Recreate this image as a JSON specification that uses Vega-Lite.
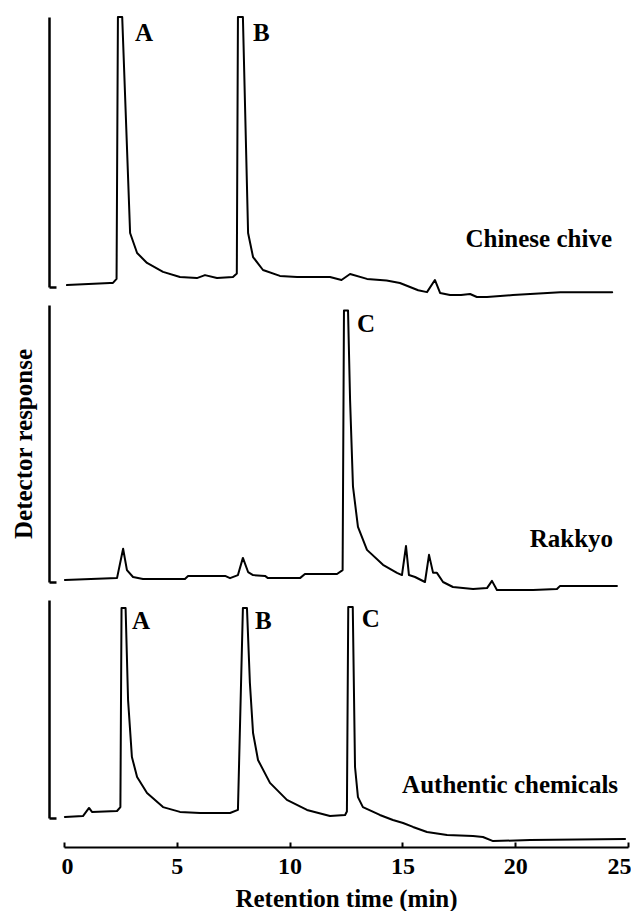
{
  "$schema": "https://vega.github.io/schema/vega-lite/v6.json",
  "autosize": {"type": "pad"},
  "padding": {"left": 11, "top": 16, "right": 0, "bottom": 0},
  "bounds": "flush",
  "spacing": 18,
  "config": {
    "view": {"stroke": null},
    "font": "Times New Roman, Liberation Serif, DejaVu Serif, serif",
    "text": {"font": "Times New Roman, Liberation Serif, DejaVu Serif, serif"},
    "axis": {
      "labelFont": "Times New Roman, Liberation Serif, DejaVu Serif, serif",
      "titleFont": "Times New Roman, Liberation Serif, DejaVu Serif, serif",
      "domainColor": "black",
      "tickColor": "black",
      "labelColor": "black",
      "titleColor": "black",
      "grid": false
    }
  },
  "datasets": {
    "traces": [
      {"sample": "Chinese chive", "time": 0.13, "response": 0.7},
      {"sample": "Chinese chive", "time": 2.04, "response": 1.5},
      {"sample": "Chinese chive", "time": 2.17, "response": 1.5},
      {"sample": "Chinese chive", "time": 2.33, "response": 3.0},
      {"sample": "Chinese chive", "time": 2.39, "response": 100},
      {"sample": "Chinese chive", "time": 2.58, "response": 100},
      {"sample": "Chinese chive", "time": 2.93, "response": 20.0},
      {"sample": "Chinese chive", "time": 3.24, "response": 12.6},
      {"sample": "Chinese chive", "time": 3.68, "response": 8.9},
      {"sample": "Chinese chive", "time": 4.39, "response": 5.6},
      {"sample": "Chinese chive", "time": 5.14, "response": 3.7},
      {"sample": "Chinese chive", "time": 5.89, "response": 3.3},
      {"sample": "Chinese chive", "time": 6.25, "response": 4.4},
      {"sample": "Chinese chive", "time": 6.78, "response": 3.3},
      {"sample": "Chinese chive", "time": 7.49, "response": 3.7},
      {"sample": "Chinese chive", "time": 7.66, "response": 5.0},
      {"sample": "Chinese chive", "time": 7.71, "response": 100},
      {"sample": "Chinese chive", "time": 7.93, "response": 100},
      {"sample": "Chinese chive", "time": 8.16, "response": 20.0},
      {"sample": "Chinese chive", "time": 8.38, "response": 11.1},
      {"sample": "Chinese chive", "time": 8.82, "response": 6.3},
      {"sample": "Chinese chive", "time": 9.57, "response": 4.1},
      {"sample": "Chinese chive", "time": 10.33, "response": 3.7},
      {"sample": "Chinese chive", "time": 11.79, "response": 3.7},
      {"sample": "Chinese chive", "time": 12.3, "response": 2.6},
      {"sample": "Chinese chive", "time": 12.68, "response": 4.8},
      {"sample": "Chinese chive", "time": 13.43, "response": 3.0},
      {"sample": "Chinese chive", "time": 14.3, "response": 2.4},
      {"sample": "Chinese chive", "time": 14.89, "response": 1.5},
      {"sample": "Chinese chive", "time": 15.7, "response": -1.2},
      {"sample": "Chinese chive", "time": 16.09, "response": -1.9},
      {"sample": "Chinese chive", "time": 16.44, "response": 2.6},
      {"sample": "Chinese chive", "time": 16.67, "response": -2.2},
      {"sample": "Chinese chive", "time": 17.11, "response": -3.0},
      {"sample": "Chinese chive", "time": 17.6, "response": -3.0},
      {"sample": "Chinese chive", "time": 18.0, "response": -2.6},
      {"sample": "Chinese chive", "time": 18.3, "response": -3.7},
      {"sample": "Chinese chive", "time": 18.75, "response": -3.7},
      {"sample": "Chinese chive", "time": 19.9, "response": -3.0},
      {"sample": "Chinese chive", "time": 22.0, "response": -1.9},
      {"sample": "Chinese chive", "time": 24.3, "response": -1.9},

      {"sample": "Rakkyo", "time": 0.04, "response": 0.7},
      {"sample": "Rakkyo", "time": 2.35, "response": 1.4},
      {"sample": "Rakkyo", "time": 2.62, "response": 12.0},
      {"sample": "Rakkyo", "time": 2.79, "response": 4.3},
      {"sample": "Rakkyo", "time": 3.06, "response": 1.8},
      {"sample": "Rakkyo", "time": 3.5, "response": 1.1},
      {"sample": "Rakkyo", "time": 5.36, "response": 1.1},
      {"sample": "Rakkyo", "time": 5.5, "response": 2.2},
      {"sample": "Rakkyo", "time": 7.14, "response": 2.2},
      {"sample": "Rakkyo", "time": 7.36, "response": 1.4},
      {"sample": "Rakkyo", "time": 7.71, "response": 2.5},
      {"sample": "Rakkyo", "time": 7.93, "response": 8.7},
      {"sample": "Rakkyo", "time": 8.16, "response": 3.6},
      {"sample": "Rakkyo", "time": 8.38, "response": 2.5},
      {"sample": "Rakkyo", "time": 8.91, "response": 2.2},
      {"sample": "Rakkyo", "time": 9.04, "response": 1.4},
      {"sample": "Rakkyo", "time": 10.46, "response": 1.4},
      {"sample": "Rakkyo", "time": 10.68, "response": 2.9},
      {"sample": "Rakkyo", "time": 12.1, "response": 2.9},
      {"sample": "Rakkyo", "time": 12.35, "response": 4.3},
      {"sample": "Rakkyo", "time": 12.41, "response": 98.0},
      {"sample": "Rakkyo", "time": 12.59, "response": 98.0},
      {"sample": "Rakkyo", "time": 12.68, "response": 65.9},
      {"sample": "Rakkyo", "time": 12.81, "response": 34.4},
      {"sample": "Rakkyo", "time": 13.03, "response": 19.9},
      {"sample": "Rakkyo", "time": 13.43, "response": 11.6},
      {"sample": "Rakkyo", "time": 14.14, "response": 6.2},
      {"sample": "Rakkyo", "time": 14.76, "response": 3.3},
      {"sample": "Rakkyo", "time": 14.98, "response": 2.5},
      {"sample": "Rakkyo", "time": 15.16, "response": 13.0},
      {"sample": "Rakkyo", "time": 15.29, "response": 2.5},
      {"sample": "Rakkyo", "time": 15.56, "response": 1.8},
      {"sample": "Rakkyo", "time": 16.0, "response": 0.0},
      {"sample": "Rakkyo", "time": 16.18, "response": 9.8},
      {"sample": "Rakkyo", "time": 16.36, "response": 3.3},
      {"sample": "Rakkyo", "time": 16.53, "response": 3.3},
      {"sample": "Rakkyo", "time": 16.8, "response": 0.0},
      {"sample": "Rakkyo", "time": 17.24, "response": -1.8},
      {"sample": "Rakkyo", "time": 18.13, "response": -2.5},
      {"sample": "Rakkyo", "time": 18.75, "response": -2.2},
      {"sample": "Rakkyo", "time": 18.97, "response": 0.4},
      {"sample": "Rakkyo", "time": 19.19, "response": -2.9},
      {"sample": "Rakkyo", "time": 20.79, "response": -2.9},
      {"sample": "Rakkyo", "time": 21.85, "response": -2.5},
      {"sample": "Rakkyo", "time": 21.99, "response": -1.4},
      {"sample": "Rakkyo", "time": 24.51, "response": -1.4},

      {"sample": "Authentic chemicals", "time": 0.04, "response": 0.5},
      {"sample": "Authentic chemicals", "time": 0.84, "response": 0.9},
      {"sample": "Authentic chemicals", "time": 1.11, "response": 4.6},
      {"sample": "Authentic chemicals", "time": 1.24, "response": 2.8},
      {"sample": "Authentic chemicals", "time": 2.35, "response": 3.2},
      {"sample": "Authentic chemicals", "time": 2.5, "response": 5.0},
      {"sample": "Authentic chemicals", "time": 2.55, "response": 96.3},
      {"sample": "Authentic chemicals", "time": 2.73, "response": 96.3},
      {"sample": "Authentic chemicals", "time": 2.84, "response": 54.1},
      {"sample": "Authentic chemicals", "time": 3.01, "response": 28.0},
      {"sample": "Authentic chemicals", "time": 3.24, "response": 18.8},
      {"sample": "Authentic chemicals", "time": 3.68, "response": 11.5},
      {"sample": "Authentic chemicals", "time": 4.39, "response": 5.0},
      {"sample": "Authentic chemicals", "time": 5.14, "response": 2.8},
      {"sample": "Authentic chemicals", "time": 6.03, "response": 2.3},
      {"sample": "Authentic chemicals", "time": 7.36, "response": 2.3},
      {"sample": "Authentic chemicals", "time": 7.71, "response": 3.7},
      {"sample": "Authentic chemicals", "time": 7.93, "response": 96.3},
      {"sample": "Authentic chemicals", "time": 8.11, "response": 96.3},
      {"sample": "Authentic chemicals", "time": 8.24, "response": 61.9},
      {"sample": "Authentic chemicals", "time": 8.38, "response": 39.0},
      {"sample": "Authentic chemicals", "time": 8.6, "response": 26.6},
      {"sample": "Authentic chemicals", "time": 9.13, "response": 16.1},
      {"sample": "Authentic chemicals", "time": 9.88, "response": 8.3},
      {"sample": "Authentic chemicals", "time": 10.77, "response": 3.7},
      {"sample": "Authentic chemicals", "time": 11.79, "response": 0.9},
      {"sample": "Authentic chemicals", "time": 12.46, "response": 1.4},
      {"sample": "Authentic chemicals", "time": 12.54, "response": 3.0},
      {"sample": "Authentic chemicals", "time": 12.6, "response": 96.8},
      {"sample": "Authentic chemicals", "time": 12.8, "response": 96.8},
      {"sample": "Authentic chemicals", "time": 12.9, "response": 23.4},
      {"sample": "Authentic chemicals", "time": 13.03, "response": 9.6},
      {"sample": "Authentic chemicals", "time": 13.25, "response": 5.0},
      {"sample": "Authentic chemicals", "time": 14.0, "response": 1.4},
      {"sample": "Authentic chemicals", "time": 14.58, "response": -0.9},
      {"sample": "Authentic chemicals", "time": 15.03, "response": -2.3},
      {"sample": "Authentic chemicals", "time": 15.47, "response": -4.1},
      {"sample": "Authentic chemicals", "time": 16.09, "response": -6.4},
      {"sample": "Authentic chemicals", "time": 16.98, "response": -7.8},
      {"sample": "Authentic chemicals", "time": 18.13, "response": -8.3},
      {"sample": "Authentic chemicals", "time": 18.57, "response": -8.7},
      {"sample": "Authentic chemicals", "time": 19.02, "response": -10.6},
      {"sample": "Authentic chemicals", "time": 20.66, "response": -10.1},
      {"sample": "Authentic chemicals", "time": 24.87, "response": -9.6}
    ],
    "labels": [
      {"sample": "Chinese chive", "kind": "peak", "label": "A", "time": 3.15, "response": 91.0},
      {"sample": "Chinese chive", "kind": "peak", "label": "B", "time": 8.38, "response": 91.0},
      {"sample": "Chinese chive", "kind": "name", "label": "Chinese chive", "time": 24.29, "response": 14.8},
      {"sample": "Rakkyo", "kind": "peak", "label": "C", "time": 12.99, "response": 90.3},
      {"sample": "Rakkyo", "kind": "name", "label": "Rakkyo", "time": 24.34, "response": 12.6},
      {"sample": "Authentic chemicals", "kind": "peak", "label": "A", "time": 3.01, "response": 86.7},
      {"sample": "Authentic chemicals", "kind": "peak", "label": "B", "time": 8.47, "response": 86.7},
      {"sample": "Authentic chemicals", "kind": "peak", "label": "C", "time": 13.2, "response": 87.6},
      {"sample": "Authentic chemicals", "kind": "name", "label": "Authentic chemicals", "time": 24.56, "response": 11.5}
    ]
  },
  "vconcat": [
    {
      "width": 564,
      "height": 270,
      "encoding": {
        "x": {"field": "time", "type": "quantitative", "scale": {"domain": [0, 25], "nice": false, "zero": false}, "axis": null},
        "y": {"field": "response", "type": "quantitative", "scale": {"domain": [0, 100], "nice": false, "zero": false},
              "axis": {"title": null, "labels": false, "values": [0], "tickSize": -7, "tickWidth": 2.5, "domainWidth": 2.5, "offset": 15}}
      },
      "layer": [
        {"data": {"name": "traces"}, "transform": [{"filter": "datum.sample === 'Chinese chive'"}],
         "mark": {"type": "line", "color": "black", "strokeWidth": 2, "strokeJoin": "round", "strokeCap": "round"}},
        {"data": {"name": "labels"}, "transform": [{"filter": "datum.sample === 'Chinese chive' && datum.kind === 'peak'"}],
         "mark": {"type": "text", "align": "left", "baseline": "alphabetic", "font": "Times New Roman, Liberation Serif, DejaVu Serif, serif", "fontWeight": "bold", "fontSize": 25, "color": "black"},
         "encoding": {"text": {"field": "label"}}},
        {"data": {"name": "labels"}, "transform": [{"filter": "datum.sample === 'Chinese chive' && datum.kind === 'name'"}],
         "mark": {"type": "text", "align": "right", "baseline": "alphabetic", "font": "Times New Roman, Liberation Serif, DejaVu Serif, serif", "fontWeight": "bold", "fontSize": 25, "color": "black"},
         "encoding": {"text": {"field": "label"}}}
      ]
    },
    {
      "width": 564,
      "height": 277,
      "encoding": {
        "x": {"field": "time", "type": "quantitative", "scale": {"domain": [0, 25], "nice": false, "zero": false}, "axis": null},
        "y": {"field": "response", "type": "quantitative", "scale": {"domain": [0, 100], "nice": false, "zero": false},
              "axis": {"title": "Detector response", "titleFontSize": 25, "titleFontWeight": "bold", "titlePadding": 11, "labels": false, "values": [0], "tickSize": -7, "tickWidth": 2.5, "domainWidth": 2.5, "offset": 15}}
      },
      "layer": [
        {"data": {"name": "traces"}, "transform": [{"filter": "datum.sample === 'Rakkyo'"}],
         "mark": {"type": "line", "color": "black", "strokeWidth": 2, "strokeJoin": "round", "strokeCap": "round"}},
        {"data": {"name": "labels"}, "transform": [{"filter": "datum.sample === 'Rakkyo' && datum.kind === 'peak'"}],
         "mark": {"type": "text", "align": "left", "baseline": "alphabetic", "font": "Times New Roman, Liberation Serif, DejaVu Serif, serif", "fontWeight": "bold", "fontSize": 25, "color": "black"},
         "encoding": {"text": {"field": "label"}}},
        {"data": {"name": "labels"}, "transform": [{"filter": "datum.sample === 'Rakkyo' && datum.kind === 'name'"}],
         "mark": {"type": "text", "align": "right", "baseline": "alphabetic", "font": "Times New Roman, Liberation Serif, DejaVu Serif, serif", "fontWeight": "bold", "fontSize": 25, "color": "black"},
         "encoding": {"text": {"field": "label"}}}
      ]
    },
    {
      "width": 564,
      "height": 218,
      "encoding": {
        "x": {"field": "time", "type": "quantitative", "scale": {"domain": [0, 25], "nice": false, "zero": false},
              "axis": {"title": "Retention time (min)", "titleFontSize": 25, "titleFontWeight": "bold", "titlePadding": 8,
                       "values": [0, 5, 10, 15, 20, 25], "labelFontSize": 24, "labelFontWeight": "bold", "labelPadding": 12,
                       "labelFlush": true, "labelFlushOffset": 3,
                       "tickSize": -5, "tickWidth": 2, "domainWidth": 2, "offset": 29}},
        "y": {"field": "response", "type": "quantitative", "scale": {"domain": [0, 100], "nice": false, "zero": false},
              "axis": {"title": null, "labels": false, "values": [0], "tickSize": -7, "tickWidth": 2.5, "domainWidth": 2.5, "offset": 15}}
      },
      "layer": [
        {"data": {"name": "traces"}, "transform": [{"filter": "datum.sample === 'Authentic chemicals'"}],
         "mark": {"type": "line", "color": "black", "strokeWidth": 2, "strokeJoin": "round", "strokeCap": "round"}},
        {"data": {"name": "labels"}, "transform": [{"filter": "datum.sample === 'Authentic chemicals' && datum.kind === 'peak'"}],
         "mark": {"type": "text", "align": "left", "baseline": "alphabetic", "font": "Times New Roman, Liberation Serif, DejaVu Serif, serif", "fontWeight": "bold", "fontSize": 25, "color": "black"},
         "encoding": {"text": {"field": "label"}}},
        {"data": {"name": "labels"}, "transform": [{"filter": "datum.sample === 'Authentic chemicals' && datum.kind === 'name'"}],
         "mark": {"type": "text", "align": "right", "baseline": "alphabetic", "font": "Times New Roman, Liberation Serif, DejaVu Serif, serif", "fontWeight": "bold", "fontSize": 25, "color": "black"},
         "encoding": {"text": {"field": "label"}}}
      ]
    }
  ]
}
